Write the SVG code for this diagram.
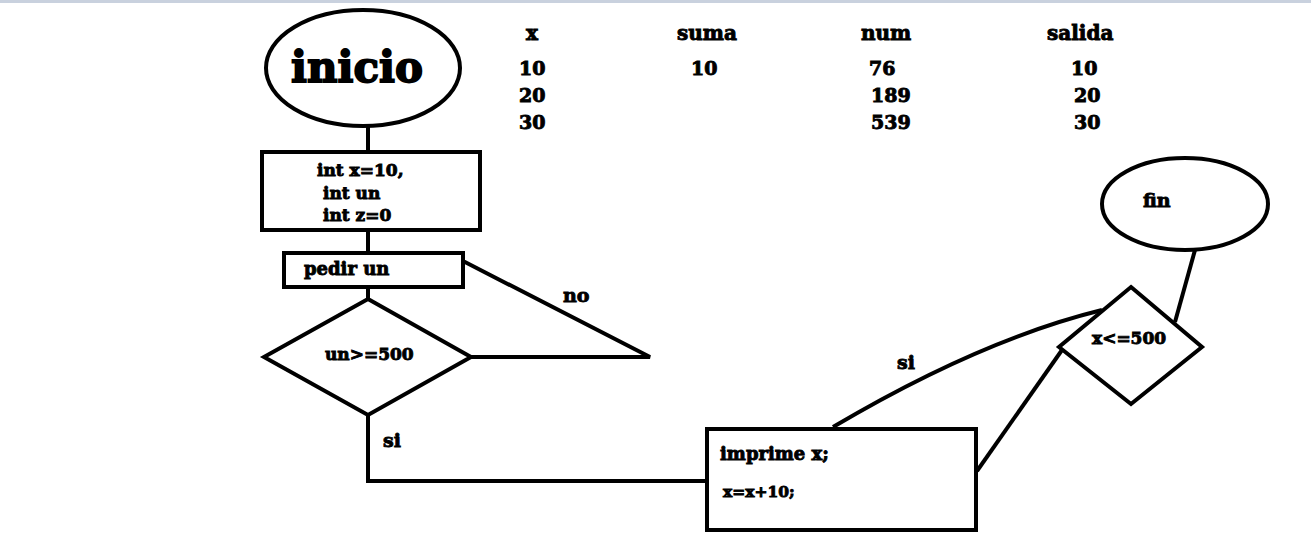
<svg xmlns="http://www.w3.org/2000/svg" width="1311" height="541" viewBox="0 0 1311 541">
<style>
.s{fill:none;stroke:#000;stroke-width:4;stroke-linejoin:miter}
.n{fill:#fff;stroke:#000;stroke-width:4}
text{font-family:"DejaVu Serif","Liberation Serif",serif;font-weight:bold;fill:#000;stroke:#000;stroke-width:0.9}
.t{font-size:19px}
.h{font-size:20px}
.b{font-size:17px}
</style>
<rect x="0" y="0" width="1311" height="541" fill="#fff"/>
<rect x="0" y="0" width="1311" height="3" fill="#c9d1de"/>
<g id="table">
<text class="h" x="526" y="40">x</text>
<text class="h" x="677" y="40">suma</text>
<text class="h" x="861" y="40">num</text>
<text class="h" x="1047" y="40">salida</text>
<text class="t" x="519" y="75">10</text>
<text class="t" x="691" y="75">10</text>
<text class="t" x="869" y="75">76</text>
<text class="t" x="1071" y="75">10</text>
<text class="t" x="519" y="102">20</text>
<text class="t" x="871" y="102">189</text>
<text class="t" x="1074" y="102">20</text>
<text class="t" x="519" y="129">30</text>
<text class="t" x="871" y="129">539</text>
<text class="t" x="1074" y="129">30</text>
</g>
<g id="connectors">
<path class="s" d="M368,126 V152"/>
<path class="s" d="M368,230 V252"/>
<path class="s" d="M368,287 V300"/>
<path class="s" d="M463,261 L650,357 L471,357"/>
<path class="s" d="M368,415 V481 H707"/>
<path class="s" d="M833,427 Q980,340 1102,310"/>
<path class="s" d="M977,471 L1062,350"/>
<path class="s" d="M1195,250 L1175,322"/>
<text class="t" x="563" y="302">no</text>
<text class="t" x="383" y="447">si</text>
<text class="t" x="897" y="369">si</text>
</g>
<g id="inicio">
<ellipse class="n" cx="363" cy="68" rx="97" ry="58"/>
<text x="291" y="82" style="font-size:42px;stroke-width:1.8">inicio</text>
</g>
<g id="decl">
<rect class="n" x="262" y="152" width="218" height="78"/>
<text class="b" x="317" y="176">int x=10,</text>
<text class="b" x="323" y="199">int un</text>
<text class="b" x="323" y="221">int z=0</text>
</g>
<g id="pedir">
<rect class="n" x="284" y="253" width="179" height="34"/>
<text x="304" y="275" style="font-size:18px">pedir un</text>
</g>
<g id="cond1">
<polygon class="n" points="368,299 471,357 368,415 264,357"/>
<text class="b" x="325" y="360">un&gt;=500</text>
</g>
<g id="imprime">
<rect class="n" x="707" y="429" width="269" height="101"/>
<text x="720" y="460" style="font-size:18px">imprime x;</text>
<text x="723" y="497" style="font-size:15.5px">x=x+10;</text>
</g>
<g id="cond2">
<polygon class="n" points="1131,287 1202,347 1131,404 1059,347"/>
<text class="b" x="1092" y="344">x&lt;=500</text>
</g>
<g id="fin">
<ellipse class="n" cx="1185" cy="204" rx="83" ry="46"/>
<text class="t" x="1143" y="207">fin</text>
</g>
</svg>
